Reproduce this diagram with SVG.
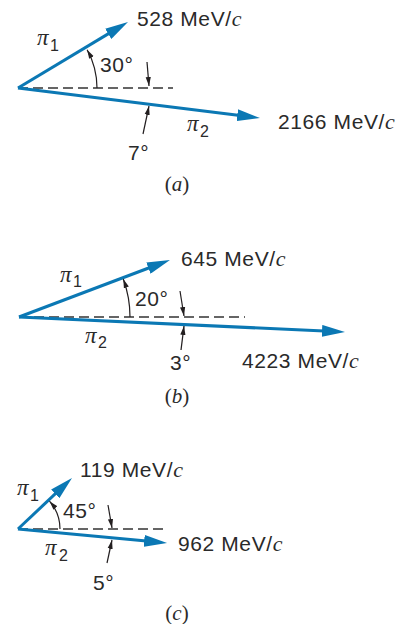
<svg xmlns="http://www.w3.org/2000/svg" width="405" height="624" viewBox="0 0 405 624">
<defs>
<marker id="big" markerUnits="userSpaceOnUse" markerWidth="23" markerHeight="12" viewBox="0 -6 23 12" refX="13" refY="0" orient="auto">
<path d="M0,-6 L23,0 L0,6 z" fill="#0b78b4"/>
</marker>
<marker id="tick" markerUnits="userSpaceOnUse" markerWidth="9" markerHeight="6" viewBox="0 -3 9 6" refX="9" refY="0" orient="auto">
<path d="M0,-2.6 L9,0 L0,2.6 z" fill="#231f20"/>
</marker>
</defs>
<style>
.vec{stroke:#0b78b4;stroke-width:3;fill:none;marker-end:url(#big)}
.dash{stroke:#333;stroke-width:1.4;stroke-dasharray:10 5;fill:none}
.ang{stroke:#231f20;stroke-width:1.2;fill:none;marker-end:url(#tick)}
.lab{font-family:"Liberation Sans",Arial,sans-serif;font-size:21px;letter-spacing:0.6px;fill:#2a2a2a}
.it{font-family:"Liberation Serif","Times New Roman",serif;font-style:italic;font-size:22px;letter-spacing:0}
.pi{font-family:"Liberation Serif","Times New Roman",serif;font-style:italic;font-size:23px;fill:#2a2a2a}
.sub{font-family:"Liberation Sans",Arial,sans-serif;font-size:16px;fill:#2a2a2a}
.cap{font-family:"Liberation Serif","Times New Roman",serif;font-size:21px;fill:#2a2a2a;text-anchor:middle}
</style>
<g id="connectors">
<line class="dash" x1="18" y1="88" x2="173" y2="88"/>
<line class="vec" x1="18" y1="88" x2="119.4" y2="27.1"/>
<line class="vec" x1="18" y1="88" x2="250.1" y2="116.8"/>
<path class="ang" d="M97,88 A79,79 0 0,0 87.1,49.7"/>
<line class="ang" x1="147" y1="62" x2="149" y2="86"/>
<line class="ang" x1="143" y1="134" x2="149" y2="106"/>

<line class="dash" x1="19" y1="317" x2="245" y2="317"/>
<line class="vec" x1="19" y1="317" x2="160.6" y2="263.5"/>
<line class="vec" x1="19" y1="317" x2="335" y2="331.5"/>
<path class="ang" d="M130,317 A111,111 0 0,0 123.3,279"/>
<line class="ang" x1="180" y1="291" x2="184" y2="316"/>
<line class="ang" x1="181" y1="350" x2="184" y2="326"/>

<line class="dash" x1="18" y1="529" x2="167" y2="529"/>
<line class="vec" x1="18" y1="529" x2="64.7" y2="484.9"/>
<line class="vec" x1="18" y1="529" x2="157.1" y2="542.1"/>
<path class="ang" d="M60,529 A42,42 0 0,0 49.5,501.2"/>
<line class="ang" x1="108" y1="505" x2="112" y2="528"/>
<line class="ang" x1="107" y1="563" x2="112" y2="540"/>
</g>
<g id="panel-a">
<g id="a-pi1"><text class="pi" x="37" y="45">π</text><text class="sub" x="50" y="51">1</text></g>
<g id="a-p1"><text class="lab" x="137" y="26">528 MeV/<tspan class="it">c</tspan></text></g>
<g id="a-ang1"><text class="lab" x="100" y="72">30°</text></g>
<g id="a-pi2"><text class="pi" x="187" y="131">π</text><text class="sub" x="200" y="137">2</text></g>
<g id="a-p2"><text class="lab" x="278" y="129">2166 MeV/<tspan class="it">c</tspan></text></g>
<g id="a-ang2"><text class="lab" x="128" y="160">7°</text></g>
<g id="a-cap"><text class="cap" x="177" y="191">(<tspan font-style="italic">a</tspan>)</text></g>
</g>
<g id="panel-b">
<g id="b-pi1"><text class="pi" x="60" y="282">π</text><text class="sub" x="73" y="287">1</text></g>
<g id="b-p1"><text class="lab" x="181" y="266">645 MeV/<tspan class="it">c</tspan></text></g>
<g id="b-ang1"><text class="lab" x="135" y="306">20°</text></g>
<g id="b-pi2"><text class="pi" x="85" y="343">π</text><text class="sub" x="98" y="348">2</text></g>
<g id="b-p2"><text class="lab" x="242" y="368">4223 MeV/<tspan class="it">c</tspan></text></g>
<g id="b-ang2"><text class="lab" x="170" y="370">3°</text></g>
<g id="b-cap"><text class="cap" x="177" y="403">(<tspan font-style="italic">b</tspan>)</text></g>
</g>
<g id="panel-c">
<g id="c-pi1"><text class="pi" x="17" y="495">π</text><text class="sub" x="30" y="501">1</text></g>
<g id="c-p1"><text class="lab" x="80" y="477">119 MeV/<tspan class="it">c</tspan></text></g>
<g id="c-ang1"><text class="lab" x="63" y="518">45°</text></g>
<g id="c-pi2"><text class="pi" x="45" y="555">π</text><text class="sub" x="59" y="561">2</text></g>
<g id="c-p2"><text class="lab" x="178" y="551">962 MeV/<tspan class="it">c</tspan></text></g>
<g id="c-ang2"><text class="lab" x="93" y="590">5°</text></g>
<g id="c-cap"><text class="cap" x="177" y="620">(<tspan font-style="italic">c</tspan>)</text></g>
</g>
</svg>
